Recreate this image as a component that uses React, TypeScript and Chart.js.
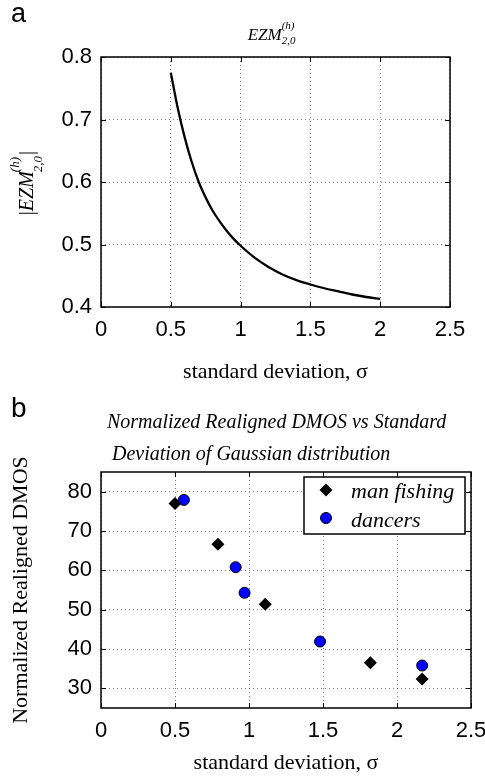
import React, { useEffect, useRef } from 'react';
import { Chart, registerables } from 'chart.js';

Chart.register(...registerables);

// ---------- data ----------
const sigmaA = [0.5, 0.55, 0.6, 0.65, 0.7, 0.75, 0.8, 0.85, 0.9, 0.95, 1.0, 1.1, 1.2, 1.3, 1.4, 1.5, 1.6, 1.7, 1.8, 1.9, 2.0];
const ezmA = [0.775, 0.718, 0.671, 0.632, 0.6, 0.575, 0.554, 0.537, 0.522, 0.509, 0.498, 0.479, 0.464, 0.452, 0.443, 0.436, 0.43, 0.425, 0.42, 0.416, 0.413];

const xTicks = [0, 0.5, 1, 1.5, 2, 2.5];
const yTicksA = [0.4, 0.5, 0.6, 0.7, 0.8];
const yTicksB = [30, 40, 50, 60, 70, 80];

const fishingSigma = [0.5, 0.79, 1.11, 1.82, 2.17];
const fishingDmos = [77.0, 66.6, 51.4, 36.5, 32.4];
const dancersSigma = [0.56, 0.91, 0.97, 1.48, 2.17];
const dancersDmos = [77.9, 60.8, 54.3, 41.9, 35.8];

const seriesNames = ['man fishing', 'dancers'];
const titleB = ['Normalized Realigned DMOS vs Standard', 'Deviation of Gaussian distribution'];
const xTitle = 'standard deviation, \u03c3';
const yTitleB = 'Normalized Realigned DMOS';

// ---------- styling ----------
const SANS = '"Liberation Sans", Arial, sans-serif';
const SERIF = '"Liberation Serif", "Times New Roman", serif';
const W = 485;
const H = 388;

function drawFrame(chart: any, yTicks: number[]) {
  const { ctx, chartArea: ca, scales } = chart;
  ctx.save();
  ctx.strokeStyle = '#000';
  ctx.lineWidth = 1;
  const tl = 5;
  ctx.beginPath();
  for (const v of xTicks) {
    const px = Math.round(scales.x.getPixelForValue(v)) + 0.5;
    ctx.moveTo(px, ca.bottom);
    ctx.lineTo(px, ca.bottom - tl);
    ctx.moveTo(px, ca.top);
    ctx.lineTo(px, ca.top + tl);
  }
  for (const v of yTicks) {
    const py = Math.round(scales.y.getPixelForValue(v)) + 0.5;
    ctx.moveTo(ca.left, py);
    ctx.lineTo(ca.left + tl, py);
    ctx.moveTo(ca.right, py);
    ctx.lineTo(ca.right - tl, py);
  }
  ctx.stroke();
  ctx.lineWidth = 1.5;
  ctx.strokeRect(ca.left, ca.top, ca.right - ca.left, ca.bottom - ca.top);
  ctx.restore();
}

function baseScales(yTicks: number[], yMin: number, yMax: number, xHeight: number) {
  return {
    x: {
      type: 'linear',
      min: 0,
      max: 2.5,
      afterBuildTicks: (s: any) => {
        s.ticks = xTicks.map((v) => ({ value: v }));
      },
      afterFit: (s: any) => {
        s.height = xHeight;
        s.paddingLeft = 0;
        s.paddingRight = 0;
      },
      ticks: {
        font: { family: SANS, size: 22 },
        color: '#000',
        padding: 10,
        maxRotation: 0,
        callback: (v: any) => String(v),
      },
      grid: { drawTicks: false, color: 'rgba(0,0,0,0.5)', lineWidth: 1 },
      border: { display: false, dash: [1, 3] },
    },
    y: {
      type: 'linear',
      min: yMin,
      max: yMax,
      afterBuildTicks: (s: any) => {
        s.ticks = yTicks.map((v) => ({ value: v }));
      },
      afterFit: (s: any) => {
        s.width = 101;
        s.paddingTop = 0;
        s.paddingBottom = 0;
      },
      ticks: {
        font: { family: SANS, size: 22 },
        color: '#000',
        padding: 9,
        callback: (v: any) => String(v),
      },
      grid: { drawTicks: false, color: 'rgba(0,0,0,0.5)', lineWidth: 1 },
      border: { display: false, dash: [1, 3] },
    },
  };
}

const panelAPlugin = {
  id: 'panelA',
  afterDraw(chart: any) {
    drawFrame(chart, yTicksA);
    const { ctx, chartArea: ca } = chart;
    ctx.save();
    ctx.fillStyle = '#000';
    ctx.textBaseline = 'alphabetic';
    ctx.textAlign = 'left';
    ctx.font = `27px ${SANS}`;
    ctx.fillText('a', 11, 22);

    // title EZM^{(h)}_{2,0}
    ctx.font = `italic 17px ${SERIF}`;
    const wm = ctx.measureText('EZM').width;
    ctx.font = `italic 11px ${SERIF}`;
    const ws = Math.max(ctx.measureText('(h)').width, ctx.measureText('2,0').width);
    const cx = (ca.left + ca.right) / 2 - 4;
    const x0 = cx - (wm + ws) / 2;
    ctx.font = `italic 17px ${SERIF}`;
    ctx.fillText('EZM', x0, 40);
    ctx.font = `italic 11px ${SERIF}`;
    ctx.fillText('(h)', x0 + wm, 29);
    ctx.fillText('2,0', x0 + wm, 44);

    // y title |EZM^{(h)}_{2,0}|
    ctx.translate(33, (ca.top + ca.bottom) / 2 + 1);
    ctx.rotate(-Math.PI / 2);
    ctx.font = `20px ${SERIF}`;
    const wb = ctx.measureText('|').width;
    ctx.font = `italic 20px ${SERIF}`;
    const wm2 = ctx.measureText('EZM').width;
    ctx.font = `italic 13px ${SERIF}`;
    const ws2 = Math.max(ctx.measureText('(h)').width, ctx.measureText('2,0').width);
    const total = wb * 2 + wm2 + ws2;
    let u = -total / 2;
    ctx.font = `20px ${SERIF}`;
    ctx.fillText('|', u, 0);
    u += wb;
    ctx.font = `italic 20px ${SERIF}`;
    ctx.fillText('EZM', u, 0);
    u += wm2;
    ctx.font = `italic 13px ${SERIF}`;
    ctx.fillText('(h)', u - 1, -14);
    ctx.fillText('2,0', u - 1, 9);
    u += ws2;
    ctx.font = `20px ${SERIF}`;
    ctx.fillText('|', u, 0);
    ctx.restore();
  },
};

function diamond(ctx: any, x: number, y: number, r: number) {
  ctx.beginPath();
  ctx.moveTo(x, y - r);
  ctx.lineTo(x + r, y);
  ctx.lineTo(x, y + r);
  ctx.lineTo(x - r, y);
  ctx.closePath();
}

const panelBPlugin = {
  id: 'panelB',
  afterDraw(chart: any) {
    drawFrame(chart, yTicksB);
    const { ctx } = chart;
    ctx.save();
    ctx.fillStyle = '#000';
    ctx.textBaseline = 'alphabetic';
    ctx.textAlign = 'left';
    ctx.font = `28px ${SANS}`;
    ctx.fillText('b', 11, 28.5);

    ctx.font = `italic 20px ${SERIF}`;
    ctx.fillText(titleB[0], 107, 40);
    ctx.fillText(titleB[1], 112, 72);

    // legend
    const lx = 304, ly = 89, lw = 161, lh = 57;
    ctx.fillStyle = '#fff';
    ctx.fillRect(lx, ly, lw, lh);
    ctx.strokeStyle = '#000';
    ctx.lineWidth = 1.5;
    ctx.strokeRect(lx, ly, lw, lh);
    ctx.fillStyle = '#000';
    diamond(ctx, 326, 102, 6.5);
    ctx.fill();
    ctx.beginPath();
    ctx.arc(326, 130, 5.5, 0, Math.PI * 2);
    ctx.fillStyle = '#0000ff';
    ctx.fill();
    ctx.lineWidth = 1;
    ctx.strokeStyle = '#000';
    ctx.stroke();
    ctx.fillStyle = '#000';
    ctx.font = `italic 22px ${SERIF}`;
    ctx.fillText(seriesNames[0], 351, 110);
    ctx.fillText(seriesNames[1], 351, 138.5);
    ctx.restore();
  },
};

function PanelA() {
  const ref = useRef<HTMLCanvasElement>(null);
  useEffect(() => {
    const scales: any = baseScales(yTicksA, 0.4, 0.8, 81);
    scales.x.title = {
      display: true,
      text: xTitle,
      color: '#000',
      font: { family: SERIF, size: 22 },
      padding: { top: 0, bottom: 3 },
    };
    const chart = new Chart(ref.current as HTMLCanvasElement, {
      type: 'line',
      data: {
        datasets: [
          {
            label: 'EZM',
            data: sigmaA.map((s, i) => ({ x: s, y: ezmA[i] })),
            borderColor: '#000',
            borderWidth: 2.3,
            pointRadius: 0,
            fill: false,
            cubicInterpolationMode: 'monotone',
          },
        ],
      },
      options: {
        responsive: false,
        animation: false,
        devicePixelRatio: 1,
        layout: { padding: { left: 0, right: 35, top: 57, bottom: 0 } },
        plugins: { legend: { display: false }, tooltip: { enabled: false }, title: { display: false } },
        scales,
      } as any,
      plugins: [panelAPlugin],
    });
    return () => chart.destroy();
  }, []);
  return <canvas ref={ref} width={W} height={H} style={{ display: 'block', width: W, height: H }} />;
}

function PanelB() {
  const ref = useRef<HTMLCanvasElement>(null);
  useEffect(() => {
    const scales: any = baseScales(yTicksB, 25, 85, 68);
    scales.x.title = {
      display: true,
      text: xTitle,
      color: '#000',
      font: { family: SERIF, size: 22 },
      padding: { top: 0, bottom: 0 },
    };
    scales.y.title = {
      display: true,
      text: yTitleB,
      color: '#000',
      font: { family: SERIF, size: 22 },
      padding: { top: 8, bottom: 0 },
    };
    const chart = new Chart(ref.current as HTMLCanvasElement, {
      type: 'scatter',
      data: {
        datasets: [
          {
            label: seriesNames[0],
            data: fishingSigma.map((s, i) => ({ x: s, y: fishingDmos[i] })),
            pointStyle: 'rectRot',
            pointRadius: 6.5,
            backgroundColor: '#000',
            borderColor: '#000',
            borderWidth: 0,
          },
          {
            label: seriesNames[1],
            data: dancersSigma.map((s, i) => ({ x: s, y: dancersDmos[i] })),
            pointStyle: 'circle',
            pointRadius: 5.5,
            backgroundColor: '#0000ff',
            borderColor: '#000',
            borderWidth: 1,
          },
        ],
      },
      options: {
        responsive: false,
        animation: false,
        devicePixelRatio: 1,
        layout: { padding: { left: 0, right: 14, top: 84, bottom: 0 } },
        plugins: { legend: { display: false }, tooltip: { enabled: false }, title: { display: false } },
        scales,
      } as any,
      plugins: [panelBPlugin],
    });
    return () => chart.destroy();
  }, []);
  return <canvas ref={ref} width={W} height={H} style={{ display: 'block', width: W, height: H }} />;
}

export default function App() {
  return (
    <div style={{ position: 'fixed', left: 0, top: 0, width: W, height: 2 * H, background: '#fff' }}>
      <PanelA />
      <PanelB />
    </div>
  );
}
